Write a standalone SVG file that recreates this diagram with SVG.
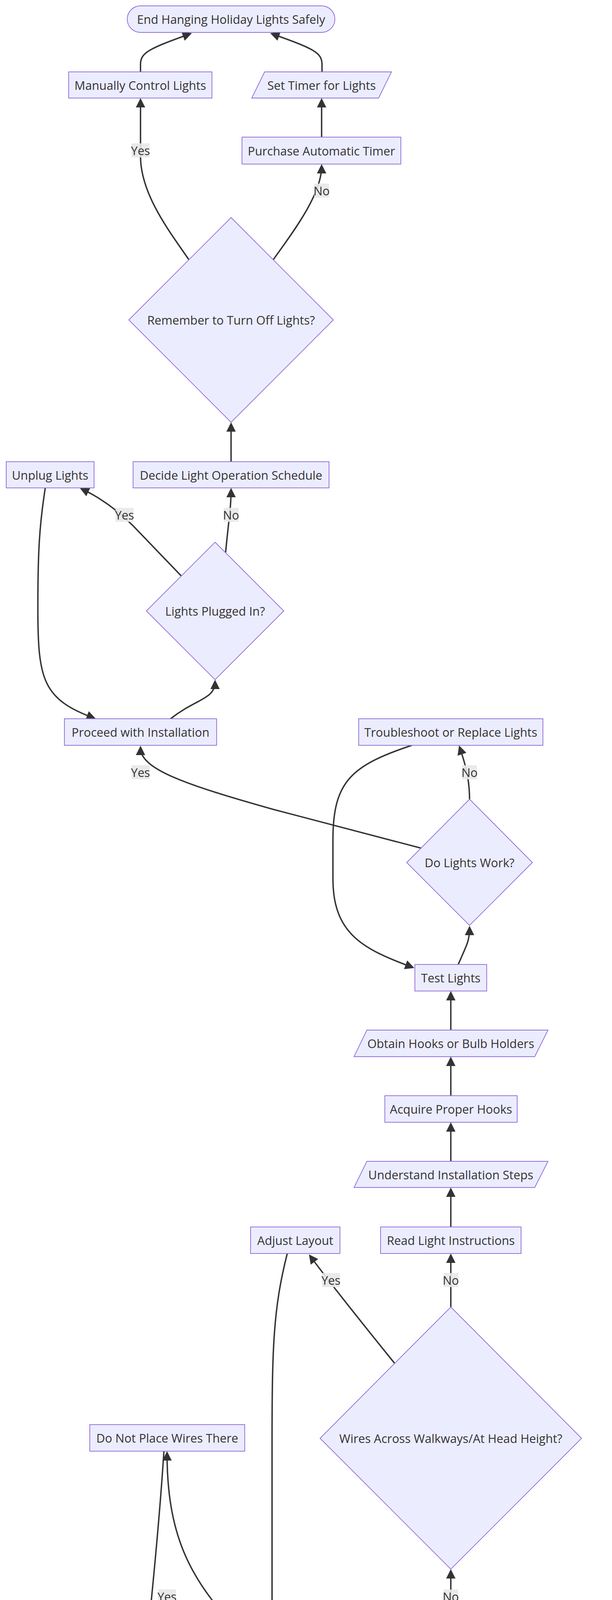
<svg xmlns="http://www.w3.org/2000/svg" width="1568" height="5966" viewBox="0 0 1568 5966">
<style>
.n{fill:#ECECFF;stroke:#9370DB;stroke-width:1.9}
.t{font-family:"Open Sans","Noto Sans",sans-serif;font-size:30.7px;fill:#333333;text-anchor:middle;dominant-baseline:central}
.e{fill:none;stroke:#333333;stroke-width:3.6}
.lb{fill:#e8e8e8;opacity:0.9}
</style>
<defs>
<marker id="arr" viewBox="0 0 10 10" refX="7.5" refY="5" markerWidth="24" markerHeight="24" markerUnits="userSpaceOnUse" orient="auto"><path d="M0,0 L10,5 L0,10 z" fill="#333333"/></marker>
</defs>
<rect width="1568" height="5966" fill="#ffffff"/>
<g id="edges">
<path class="e" marker-end="url(#arr)" d="M397,5819 L397,5725"/>
<path class="e" marker-end="url(#arr)" d="M397,5651 L397,5558"/>
<path class="e" marker-end="url(#arr)" d="M318,5301 L200,5176 Q171,5140 171,5090"/>
<path class="e" marker-end="url(#arr)" d="M473,5298 L568,5176 Q592,5140 592,5090"/>
<path class="e" marker-end="url(#arr)" d="M171,5016 L171,4575"/>
<path class="e" marker-end="url(#arr)" d="M729,5030 C900,4998 1155,4975 1155,4922"/>
<path class="e" marker-end="url(#arr)" d="M920,4390 L850,4349 C760,4295 660,4230 600,4165 C500,4050 428,3950 428,3721"/>
<path class="e" marker-end="url(#arr)" d="M420,3715 C395,4100 366,4200 366,4500 C366,4850 385,4955 483,5012"/>
<path class="e" marker-end="url(#arr)" d="M736,3209 C700,3350 697,3450 697,3700 L697,4600 C697,4900 690,4960 648,5010"/>
<path class="e" marker-end="url(#arr)" d="M1155,4155 L1155,4023"/>
<path class="e" marker-end="url(#arr)" d="M1011,3490 C930,3390 850,3290 795,3216"/>
<path class="e" marker-end="url(#arr)" d="M1155,3346 L1155,3215"/>
<path class="e" marker-end="url(#arr)" d="M1155,3141 L1155,3046"/>
<path class="e" marker-end="url(#arr)" d="M1155,2973 L1155,2879"/>
<path class="e" marker-end="url(#arr)" d="M1155,2805 L1155,2711"/>
<path class="e" marker-end="url(#arr)" d="M1155,2637 L1155,2543"/>
<path class="e" marker-end="url(#arr)" d="M1174,2469 C1195,2420 1203,2410 1203,2376"/>
<path class="e" marker-end="url(#arr)" d="M1203,2046 C1203,1990 1190,1950 1178,1914"/>
<path class="e" marker-end="url(#arr)" d="M1055,1908 C900,1960 853,2000 853,2150 L853,2250 C853,2390 930,2430 1056,2476"/>
<path class="e" marker-end="url(#arr)" d="M1078,2171 L700,2072 C480,2010 360,1970 360,1915"/>
<path class="e" marker-end="url(#arr)" d="M437,1840 C500,1790 551,1790 551,1746"/>
<path class="e" marker-end="url(#arr)" d="M116,1249 C100,1350 97,1420 97,1560 C97,1740 110,1790 240,1838"/>
<path class="e" marker-end="url(#arr)" d="M464,1474 L340,1345 Q280,1285 210,1252"/>
<path class="e" marker-end="url(#arr)" d="M578,1414 C586,1330 592,1300 592,1255"/>
<path class="e" marker-end="url(#arr)" d="M592,1182 L592,1087"/>
<path class="e" marker-end="url(#arr)" d="M484,665 C440,600 360,500 360,400 L360,257"/>
<path class="e" marker-end="url(#arr)" d="M700,665 C746,600 824,500 824,426"/>
<path class="e" marker-end="url(#arr)" d="M824,351 L824,257"/>
<path class="e" marker-end="url(#arr)" d="M360,184 L360,165 C360,135 380,125 486,87"/>
<path class="e" marker-end="url(#arr)" d="M825,184 L825,165 C825,135 805,125 698,87"/>
<g id="edge-labels">
<rect class="lb" x="337" y="367" width="46" height="36"/><text class="t" x="360" y="385">Yes</text>
<rect class="lb" x="805" y="470" width="38" height="36"/><text class="t" x="824" y="488">No</text>
<rect class="lb" x="296" y="1300" width="46" height="36"/><text class="t" x="319" y="1318">Yes</text>
<rect class="lb" x="573" y="1300" width="38" height="36"/><text class="t" x="592" y="1318">No</text>
<rect class="lb" x="337" y="1959" width="46" height="36"/><text class="t" x="360" y="1977">Yes</text>
<rect class="lb" x="1184" y="1959" width="38" height="36"/><text class="t" x="1203" y="1977">No</text>
<rect class="lb" x="825" y="3259" width="46" height="36"/><text class="t" x="848" y="3277">Yes</text>
<rect class="lb" x="1136" y="3259" width="38" height="36"/><text class="t" x="1155" y="3277">No</text>
<rect class="lb" x="405" y="4069" width="46" height="36"/><text class="t" x="428" y="4087">Yes</text>
<rect class="lb" x="1136" y="4069" width="38" height="36"/><text class="t" x="1155" y="4087">No</text>
<rect class="lb" x="148" y="5134" width="46" height="36"/><text class="t" x="171" y="5152">Yes</text>
<rect class="lb" x="573" y="5134" width="38" height="36"/><text class="t" x="592" y="5152">No</text>
</g>
</g>
<g id="endHanging"><rect class="n" x="326" y="15" width="532" height="68" rx="34"/><text class="t" x="592" y="49">End Hanging Holiday Lights Safely</text></g>
<g id="manualControl"><rect class="n" x="176" y="184" width="367" height="67"/><text class="t" x="359.5" y="217.5">Manually Control Lights</text></g>
<g id="setTimer"><polygon class="n" points="678,184 1003,184 970,251 645,251"/><text class="t" x="824" y="217.5">Set Timer for Lights</text></g>
<g id="purchaseTimer"><rect class="n" x="620" y="351" width="407" height="69"/><text class="t" x="823.5" y="385.5">Purchase Automatic Timer</text></g>
<g id="rememberOff"><polygon class="n" points="592,557 854,819 592,1081 330,819"/><text class="t" x="592" y="819">Remember to Turn Off Lights?</text></g>
<g id="unplug"><rect class="n" x="16" y="1182" width="225" height="67"/><text class="t" x="128.5" y="1215.5">Unplug Lights</text></g>
<g id="decideSchedule"><rect class="n" x="341" y="1182" width="502" height="67"/><text class="t" x="592" y="1215.5">Decide Light Operation Schedule</text></g>
<g id="pluggedIn"><polygon class="n" points="551,1388 727,1564 551,1740 375,1564"/><text class="t" x="551" y="1564">Lights Plugged In?</text></g>
<g id="proceed"><rect class="n" x="165" y="1840" width="390" height="68"/><text class="t" x="360" y="1874">Proceed with Installation</text></g>
<g id="troubleshoot"><rect class="n" x="919" y="1840" width="472" height="68"/><text class="t" x="1155" y="1874">Troubleshoot or Replace Lights</text></g>
<g id="lightsWork"><polygon class="n" points="1203,2046 1364,2208 1203,2369 1042,2208"/><text class="t" x="1203" y="2208">Do Lights Work?</text></g>
<g id="testLights"><rect class="n" x="1063" y="2469" width="184" height="68"/><text class="t" x="1155" y="2503">Test Lights</text></g>
<g id="obtainHooks"><polygon class="n" points="940,2637 1404,2637 1370,2705 907,2705"/><text class="t" x="1155" y="2671">Obtain Hooks or Bulb Holders</text></g>
<g id="acquireHooks"><rect class="n" x="986" y="2805" width="339" height="68"/><text class="t" x="1155.5" y="2839">Acquire Proper Hooks</text></g>
<g id="understandSteps"><polygon class="n" points="940,2973 1404,2973 1370,3040 907,3040"/><text class="t" x="1155" y="3006.5">Understand Installation Steps</text></g>
<g id="adjustLayout"><rect class="n" x="642" y="3141" width="229" height="68"/><text class="t" x="756.5" y="3175">Adjust Layout</text></g>
<g id="readInstructions"><rect class="n" x="975" y="3141" width="360" height="68"/><text class="t" x="1155" y="3175">Read Light Instructions</text></g>
<g id="walkways"><polygon class="n" points="1155,3346 1490,3682 1155,4017 820,3682"/><text class="t" x="1155" y="3682">Wires Across Walkways/At Head Height?</text></g>
<g id="doNotPlace"><rect class="n" x="230" y="3647" width="397" height="68"/><text class="t" x="428.5" y="3681">Do Not Place Wires There</text></g>
<g id="doorways"><polygon class="n" points="1155,4155 1536,4535 1155,4916 775,4535"/><text class="t" x="1155" y="4535">Wires in Doorways/Windows/Under Furniture?</text></g>
<g id="end"><rect class="n" x="121" y="4501" width="99" height="68" rx="34"/><text class="t" x="170.5" y="4535">End</text></g>
<g id="doNotUseLadder"><rect class="n" x="23" y="5016" width="297" height="68"/><text class="t" x="171.5" y="5050">Do Not Use Ladder</text></g>
<g id="planWire"><rect class="n" x="455" y="5016" width="274" height="68"/><text class="t" x="592" y="5050">Plan Wire Layout</text></g>
<g id="ladderMetal"><polygon class="n" points="397,5222 562,5387 397,5552 232,5387"/><text class="t" x="397" y="5387">Is Ladder Metal?</text></g>
<g id="chooseLadder"><rect class="n" x="263" y="5651" width="268" height="68"/><text class="t" x="397" y="5685">Choose a Ladder</text></g>
<g id="start"><rect class="n" x="122" y="5819" width="550" height="68" rx="34"/><text class="t" x="397" y="5853">Start Hanging Holiday Lights Safely</text></g>
</svg>
